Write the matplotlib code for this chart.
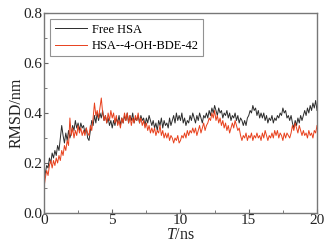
import numpy as np
import matplotlib.pyplot as plt
from matplotlib.ticker import MultipleLocator

plt.rcParams.update({
    "font.family": "Liberation Serif",
    "mathtext.fontset": "custom",
    "mathtext.it": "Liberation Serif:italic",
    "mathtext.rm": "Liberation Serif",
    "xtick.direction": "in",
    "ytick.direction": "in",
    "figure.dpi": 100,
})

# time axis, 0.1 ns step
t_ns = np.round(np.arange(0, 20.01, 0.1), 1)

rmsd_free = [
    0.12, 0.16, 0.19, 0.18, 0.22, 0.20, 0.24, 0.22, 0.25, 0.23,
    0.27, 0.25, 0.30, 0.35, 0.31, 0.28, 0.32, 0.29, 0.33, 0.30,
    0.32, 0.35, 0.33, 0.37, 0.34, 0.36, 0.33, 0.36, 0.34, 0.35,
    0.32, 0.34, 0.30, 0.29, 0.33, 0.37, 0.35, 0.39, 0.36, 0.40,
    0.37, 0.40, 0.38, 0.41, 0.37, 0.39, 0.36, 0.38, 0.35, 0.37,
    0.34, 0.37, 0.35, 0.38, 0.36, 0.39, 0.35, 0.38, 0.36, 0.39,
    0.37, 0.40, 0.36, 0.39, 0.37, 0.40, 0.36, 0.38, 0.37, 0.39,
    0.36, 0.39, 0.37, 0.38, 0.35, 0.38, 0.36, 0.39, 0.37, 0.35,
    0.37, 0.34, 0.36, 0.33, 0.37, 0.35, 0.38, 0.34, 0.37, 0.35,
    0.36, 0.34, 0.38, 0.35, 0.37, 0.39, 0.36, 0.40, 0.37, 0.39,
    0.37, 0.40, 0.36, 0.38, 0.35, 0.37, 0.36, 0.39, 0.37, 0.40,
    0.38, 0.36, 0.39, 0.37, 0.40, 0.38, 0.36, 0.39, 0.38, 0.40,
    0.38, 0.41, 0.39, 0.42, 0.40, 0.43, 0.41, 0.39, 0.42, 0.40,
    0.41, 0.38, 0.40, 0.39, 0.41, 0.38, 0.40, 0.37, 0.39, 0.38,
    0.40, 0.37, 0.39, 0.36, 0.38, 0.37, 0.35, 0.37, 0.35, 0.38,
    0.39, 0.41, 0.40, 0.43, 0.41, 0.42, 0.39, 0.41, 0.38, 0.40,
    0.38, 0.40, 0.37, 0.39, 0.36, 0.38, 0.37, 0.39, 0.36, 0.38,
    0.37, 0.39, 0.38, 0.40, 0.39, 0.42, 0.40, 0.41, 0.38, 0.39,
    0.37, 0.39, 0.36, 0.34, 0.37, 0.35, 0.38, 0.36, 0.39, 0.37,
    0.39, 0.41, 0.39, 0.42, 0.40, 0.43, 0.41, 0.44, 0.42, 0.45,
    0.41,
]

rmsd_complex = [
    0.10, 0.14, 0.17, 0.15, 0.19, 0.21, 0.18, 0.21, 0.19, 0.22,
    0.20, 0.23, 0.21, 0.25, 0.23, 0.27, 0.25, 0.29, 0.27, 0.38,
    0.31, 0.34, 0.30, 0.33, 0.31, 0.35, 0.32, 0.34, 0.31, 0.33,
    0.31, 0.34, 0.32, 0.31, 0.35, 0.33, 0.38, 0.44, 0.39, 0.41,
    0.38, 0.42, 0.46, 0.40, 0.37, 0.39, 0.36, 0.40, 0.37, 0.41,
    0.38, 0.40, 0.36, 0.39, 0.35, 0.37, 0.34, 0.38, 0.36, 0.40,
    0.37, 0.40, 0.36, 0.39, 0.35, 0.38, 0.36, 0.39, 0.37, 0.40,
    0.36, 0.38, 0.35, 0.37, 0.34, 0.36, 0.33, 0.35, 0.32, 0.34,
    0.32, 0.34, 0.31, 0.33, 0.32, 0.35, 0.31, 0.33, 0.30, 0.32,
    0.30, 0.32, 0.29, 0.31, 0.30, 0.28, 0.30, 0.29, 0.31, 0.28,
    0.29, 0.31, 0.30, 0.32, 0.30, 0.33, 0.31, 0.33, 0.32, 0.34,
    0.32, 0.34, 0.31, 0.33, 0.35, 0.32, 0.34, 0.36, 0.33, 0.35,
    0.36, 0.38, 0.37, 0.40, 0.38, 0.41, 0.37, 0.39, 0.36, 0.38,
    0.35, 0.37, 0.34, 0.36, 0.33, 0.35, 0.32, 0.34, 0.36, 0.34,
    0.37, 0.35, 0.33, 0.34, 0.31, 0.29, 0.31, 0.30, 0.32, 0.29,
    0.31, 0.30, 0.32, 0.29, 0.31, 0.30, 0.32, 0.30, 0.31, 0.29,
    0.32, 0.30, 0.33, 0.31, 0.29, 0.31, 0.30, 0.32, 0.30, 0.33,
    0.31, 0.33, 0.30, 0.32, 0.31, 0.29, 0.32, 0.30, 0.32, 0.31,
    0.30, 0.32, 0.35, 0.33, 0.36, 0.34, 0.32, 0.35, 0.33, 0.31,
    0.33, 0.31, 0.32, 0.30, 0.33, 0.31, 0.32, 0.30, 0.33, 0.32,
    0.35,
]

fig = plt.figure(figsize=(3.33, 2.50))
ax = fig.add_axes([0.132, 0.148, 0.820, 0.800])

ax.plot(t_ns, rmsd_free, color="#2b2b2b", lw=0.7, label="Free HSA")
ax.plot(t_ns, rmsd_complex, color="#e8401c", lw=0.7, label="HSA--4-OH-BDE-42")

ax.set_xlim(0, 20)
ax.set_ylim(0, 0.8)
ax.xaxis.set_major_locator(MultipleLocator(5))
ax.xaxis.set_minor_locator(MultipleLocator(2.5))
ax.yaxis.set_major_locator(MultipleLocator(0.2))
ax.yaxis.set_minor_locator(MultipleLocator(0.1))
ax.yaxis.set_major_formatter(lambda v, p: f"{v:.1f}")
ax.tick_params(which="both", colors="#666666", labelcolor="#222222",
               labelsize=11, pad=1)
ax.tick_params(which="major", length=3)
ax.tick_params(which="minor", length=2)
for s in ax.spines.values():
    s.set_color("#777777")
    s.set_linewidth(1.0)

ax.set_xlabel(r"$T$/ns", fontsize=11.5, labelpad=0, color="#222222")
ax.set_ylabel("RMSD/nm", fontsize=11.5, labelpad=-1, color="#222222")

leg = ax.legend(loc="upper left", fontsize=9, frameon=True, fancybox=False,
                handlelength=2.6, handletextpad=0.4, borderpad=0.35,
                labelspacing=0.35, borderaxespad=0.5)
leg.get_frame().set_edgecolor("#777777")
leg.get_frame().set_linewidth(0.8)

fig.savefig("out.png", dpi=100)
